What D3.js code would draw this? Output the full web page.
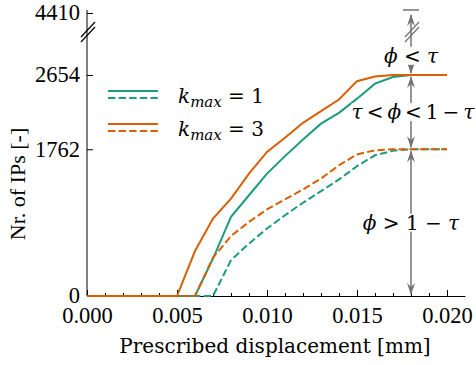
<!DOCTYPE html>
<html>
<head>
<meta charset="utf-8">
<script src="https://cdn.jsdelivr.net/npm/d3@7"></script>
<style>
  body { margin: 0; background: #fff; }
  text { font-family: "Liberation Serif", "DejaVu Serif", serif; fill: #000; }
  .math { font-family: "DejaVu Serif", serif; }
</style>
</head>
<body>
<script>
// prescribed displacement steps [mm]
const displacement = [0.000, 0.001, 0.002, 0.003, 0.004, 0.005, 0.006, 0.007, 0.008, 0.009, 0.010,
                      0.011, 0.012, 0.013, 0.014, 0.015, 0.016, 0.017, 0.018, 0.019, 0.020];
// number of IPs, solid = all IPs above tau, dashed = IPs with phi > 1 - tau
const k1Total = [0, 0, 0, 0, 0, 0, 0, 450, 950, 1210, 1470, 1680, 1880, 2070, 2200, 2370, 2550, 2630, 2654, 2654, 2654];
const k1Safe  = [0, 0, 0, 0, 0, 0, 0, 0, 430, 630, 810, 970, 1120, 1260, 1400, 1560, 1690, 1745, 1762, 1762, 1762];
const k3Total = [0, 0, 0, 0, 0, 0, 540, 930, 1170, 1470, 1730, 1900, 2080, 2220, 2360, 2580, 2635, 2654, 2654, 2654, 2654];
const k3Safe  = [0, 0, 0, 0, 0, 0, 0, 460, 720, 890, 1040, 1160, 1280, 1410, 1570, 1700, 1750, 1762, 1762, 1762, 1762];

const xMajor = [0.000, 0.005, 0.010, 0.015, 0.020];
const yTicks = [0, 1762, 2654, 4410];
const levels = [4410, 2654, 1762, 0];   // bands marked on the right
// label pieces: [text, italic?]
const bandLabels = [
  [["ϕ", true], [" < ", false], ["τ", true]],
  [["τ", true], ["\u2009<\u2009", false], ["ϕ", true], ["\u2009<\u20091\u2009−\u2009", false], ["τ", true]],
  [["ϕ", true], [" > 1 − ", false], ["τ", true]]
];
const bandLabelAt = [3200, 2208, 881];
const markX = 0.018;

const green = "#1b9e77", orange = "#d95f02", grey = "#737373";

const width = 476, height = 365;
const svg = d3.select("body").append("svg")
    .attr("width", width)
    .attr("height", height);

const x = d3.scaleLinear().domain([0, 0.021]).range([87, 465]);
// broken y axis: linear up to 2654, compressed above
const y = d3.scaleLinear().domain([0, 2654, 4410]).range([296, 75, 13]);

// x axis
const xAxis = svg.append("g")
    .attr("transform", "translate(0," + y(0) + ")")
    .call(d3.axisBottom(x).tickValues(xMajor).tickSizeInner(-6).tickSizeOuter(0)
      .tickFormat(d3.format(".3f")));
xAxis.selectAll("text").attr("y", 27).attr("dy", 0).style("font-size", "22.5px");

svg.append("g")
    .attr("transform", "translate(0," + y(0) + ")")
    .call(d3.axisBottom(x).tickValues(d3.range(1, 21).map(i => i / 1000))
      .tickSize(-3).tickFormat(""))
    .call(g => g.select(".domain").remove());

// y axis
const yAxis = svg.append("g")
    .attr("transform", "translate(" + x(0) + ",0)")
    .call(d3.axisLeft(y).tickValues(yTicks).tickSize(-6).tickFormat(d3.format("d")));
yAxis.select(".domain").remove();
yAxis.selectAll("text").attr("x", -7).attr("dy", "0.3em").style("font-size", "22.5px");
svg.append("line")
    .attr("x1", x(0)).attr("x2", x(0))
    .attr("y1", y(0)).attr("y2", y(4410) - 3)
    .attr("stroke", "#000");

// break marks on the y axis
const breakY = y(3900);
[0, 5].forEach(o => {
  svg.append("line")
    .attr("x1", x(0) - 6).attr("y1", breakY + o + 6)
    .attr("x2", x(0) + 8).attr("y2", breakY + o - 9)
    .attr("stroke", "#000").attr("stroke-width", 1.2);
});

// curves
const line = d3.line().x((d, i) => x(displacement[i])).y(d => y(d));
const series = [
  { v: k1Total, c: green, dash: null },
  { v: k1Safe, c: green, dash: "7.4,3.2" },
  { v: k3Total, c: orange, dash: null },
  { v: k3Safe, c: orange, dash: "7.4,3.2" }
];
series.forEach(s => {
  svg.append("path")
    .attr("d", line(s.v))
    .attr("fill", "none")
    .attr("stroke", s.c)
    .attr("stroke-width", 2)
    .attr("stroke-dasharray", s.dash);
});

// band arrows on the right
const mx = x(markX);
svg.append("line")
  .attr("x1", mx - 8).attr("x2", mx + 8)
  .attr("y1", y(4410) - 3).attr("y2", y(4410) - 3)
  .attr("stroke", grey).attr("stroke-width", 1.5);

function head(yTip, dir) {
  // dir = -1 points up, +1 points down
  const l = 12, w = 4;
  svg.append("path")
    .attr("d", `M${mx},${yTip} L${mx - w},${yTip - dir * l} L${mx},${yTip - dir * (l - 4)} L${mx + w},${yTip - dir * l} Z`)
    .attr("fill", grey);
}

for (let i = 0; i < 3; i++) {
  const y1 = y(levels[i]), y2 = y(levels[i + 1]);
  svg.append("line")
    .attr("x1", mx).attr("x2", mx)
    .attr("y1", y1 + 2).attr("y2", y2 - 2)
    .attr("stroke", grey).attr("stroke-width", 1.5);
  head(y1 + 1, -1);
  head(y2 - 1, 1);
}

// break marks on the arrow
[0, 5].forEach(o => {
  svg.append("line")
    .attr("x1", mx - 6).attr("y1", breakY + o + 6)
    .attr("x2", mx + 8).attr("y2", breakY + o - 9)
    .attr("stroke", grey).attr("stroke-width", 1.2);
});

bandLabels.forEach((parts, i) => {
  const g = svg.append("g");
  const txt = g.append("text")
    .attr("class", "math")
    .attr("x", mx + (i === 1 ? 2 : 0))
    .attr("y", y(bandLabelAt[i]))
    .attr("dy", "0.35em")
    .attr("text-anchor", "middle")
    .style("font-size", "20px");
  parts.forEach(p => {
    txt.append("tspan").style("font-style", p[1] ? "italic" : "normal").text(p[0]);
  });
  const bb = txt.node().getBBox();
  g.insert("rect", "text")
    .attr("x", bb.x).attr("y", bb.y + 3)
    .attr("width", bb.width).attr("height", bb.height - 6)
    .attr("fill", "#fff");
});

// legend
const legend = [
  { c: green, val: "1", y: 91 },
  { c: orange, val: "3", y: 124 }
];
legend.forEach(l => {
  svg.append("line").attr("x1", 108).attr("x2", 158).attr("y1", l.y).attr("y2", l.y)
    .attr("stroke", l.c).attr("stroke-width", 2);
  svg.append("line").attr("x1", 108).attr("x2", 158).attr("y1", l.y + 7).attr("y2", l.y + 7)
    .attr("stroke", l.c).attr("stroke-width", 2).attr("stroke-dasharray", "7.4,3.2");
  const t = svg.append("text").attr("class", "math").attr("x", 178).attr("y", l.y + 12).style("font-size", "20px");
  t.append("tspan").style("font-style", "italic").text("k");
  t.append("tspan").style("font-style", "italic").style("font-size", "15px").attr("dy", 4).text("max");
  t.append("tspan").attr("dy", -4).text(" = " + l.val);
});

// axis titles
svg.append("text")
  .attr("class", "math")
  .attr("x", 275).attr("y", 353)
  .attr("text-anchor", "middle")
  .style("font-size", "20px")
  .text("Prescribed displacement [mm]");

svg.append("text")
  .attr("transform", "translate(25,184) rotate(-90)")
  .attr("text-anchor", "middle")
  .style("font-size", "22px")
  .text("Nr. of IPs [-]");
</script>
</body>
</html>
